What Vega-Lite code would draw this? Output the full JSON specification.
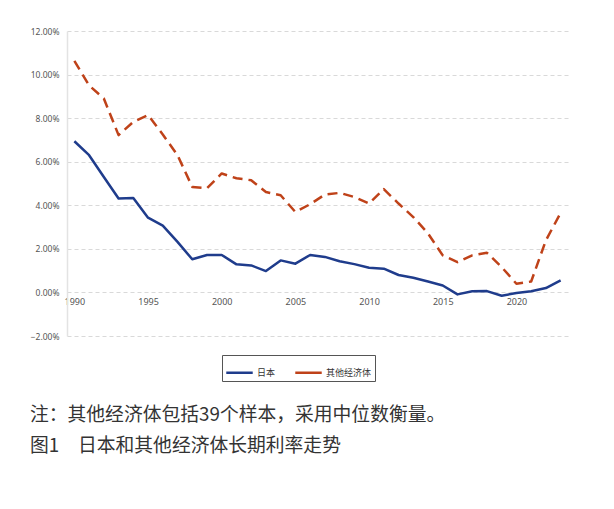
{
  "$schema": "https://vega.github.io/schema/vega-lite/v6.json",
  "width": 501,
  "height": 305,
  "autosize": {"type": "none"},
  "padding": {"left": 67, "top": 31, "right": 46, "bottom": 173},
  "background": "white",
  "title": {
    "text": "注：其他经济体包括39个样本，采用中位数衡量。",
    "subtitle": "图1　日本和其他经济体长期利率走势",
    "orient": "bottom",
    "anchor": "start",
    "frame": "group",
    "dx": -37,
    "offset": 24,
    "font": "Noto Sans CJK SC",
    "fontSize": 18.8,
    "fontWeight": "normal",
    "color": "#333333",
    "subtitleFont": "Noto Sans CJK SC",
    "subtitleFontSize": 18.8,
    "subtitleColor": "#333333",
    "subtitlePadding": 13
  },
  "data": {
    "values": [
      {"year": 1990, "series": "日本", "rate": 6.94},
      {"year": 1991, "series": "日本", "rate": 6.30},
      {"year": 1992, "series": "日本", "rate": 5.30},
      {"year": 1993, "series": "日本", "rate": 4.31},
      {"year": 1994, "series": "日本", "rate": 4.33},
      {"year": 1995, "series": "日本", "rate": 3.43},
      {"year": 1996, "series": "日本", "rate": 3.07},
      {"year": 1997, "series": "日本", "rate": 2.32},
      {"year": 1998, "series": "日本", "rate": 1.52},
      {"year": 1999, "series": "日本", "rate": 1.72},
      {"year": 2000, "series": "日本", "rate": 1.72},
      {"year": 2001, "series": "日本", "rate": 1.29},
      {"year": 2002, "series": "日本", "rate": 1.24},
      {"year": 2003, "series": "日本", "rate": 0.98},
      {"year": 2004, "series": "日本", "rate": 1.47},
      {"year": 2005, "series": "日本", "rate": 1.32},
      {"year": 2006, "series": "日本", "rate": 1.72},
      {"year": 2007, "series": "日本", "rate": 1.63},
      {"year": 2008, "series": "日本", "rate": 1.43},
      {"year": 2009, "series": "日本", "rate": 1.30},
      {"year": 2010, "series": "日本", "rate": 1.13},
      {"year": 2011, "series": "日本", "rate": 1.09},
      {"year": 2012, "series": "日本", "rate": 0.80},
      {"year": 2013, "series": "日本", "rate": 0.67},
      {"year": 2014, "series": "日本", "rate": 0.50},
      {"year": 2015, "series": "日本", "rate": 0.32},
      {"year": 2016, "series": "日本", "rate": -0.09},
      {"year": 2017, "series": "日本", "rate": 0.05},
      {"year": 2018, "series": "日本", "rate": 0.06},
      {"year": 2019, "series": "日本", "rate": -0.15},
      {"year": 2020, "series": "日本", "rate": -0.03},
      {"year": 2021, "series": "日本", "rate": 0.05},
      {"year": 2022, "series": "日本", "rate": 0.20},
      {"year": 2023, "series": "日本", "rate": 0.55},
      {"year": 1990, "series": "其他经济体", "rate": 10.63},
      {"year": 1991, "series": "其他经济体", "rate": 9.50},
      {"year": 1992, "series": "其他经济体", "rate": 8.90},
      {"year": 1993, "series": "其他经济体", "rate": 7.22},
      {"year": 1994, "series": "其他经济体", "rate": 7.83},
      {"year": 1995, "series": "其他经济体", "rate": 8.14},
      {"year": 1996, "series": "其他经济体", "rate": 7.25},
      {"year": 1997, "series": "其他经济体", "rate": 6.30},
      {"year": 1998, "series": "其他经济体", "rate": 4.84},
      {"year": 1999, "series": "其他经济体", "rate": 4.78},
      {"year": 2000, "series": "其他经济体", "rate": 5.46},
      {"year": 2001, "series": "其他经济体", "rate": 5.24},
      {"year": 2002, "series": "其他经济体", "rate": 5.15},
      {"year": 2003, "series": "其他经济体", "rate": 4.61},
      {"year": 2004, "series": "其他经济体", "rate": 4.46},
      {"year": 2005, "series": "其他经济体", "rate": 3.69},
      {"year": 2006, "series": "其他经济体", "rate": 4.05},
      {"year": 2007, "series": "其他经济体", "rate": 4.49},
      {"year": 2008, "series": "其他经济体", "rate": 4.57},
      {"year": 2009, "series": "其他经济体", "rate": 4.38},
      {"year": 2010, "series": "其他经济体", "rate": 4.08},
      {"year": 2011, "series": "其他经济体", "rate": 4.74},
      {"year": 2012, "series": "其他经济体", "rate": 4.08},
      {"year": 2013, "series": "其他经济体", "rate": 3.46},
      {"year": 2014, "series": "其他经济体", "rate": 2.71},
      {"year": 2015, "series": "其他经济体", "rate": 1.70},
      {"year": 2016, "series": "其他经济体", "rate": 1.39},
      {"year": 2017, "series": "其他经济体", "rate": 1.70},
      {"year": 2018, "series": "其他经济体", "rate": 1.82},
      {"year": 2019, "series": "其他经济体", "rate": 1.16},
      {"year": 2020, "series": "其他经济体", "rate": 0.40},
      {"year": 2021, "series": "其他经济体", "rate": 0.50},
      {"year": 2022, "series": "其他经济体", "rate": 2.39},
      {"year": 2023, "series": "其他经济体", "rate": 3.65}
    ]
  },
  "encoding": {
    "x": {
      "field": "year",
      "type": "quantitative",
      "scale": {"domain": [1989.5, 2023.5], "nice": false, "zero": false},
      "axis": {
        "title": null,
        "values": [1990, 1995, 2000, 2005, 2010, 2015, 2020],
        "format": "d",
        "grid": false,
        "domain": false,
        "ticks": false,
        "offset": -44,
        "labelPadding": 5,
        "labelFont": "Noto Sans",
        "labelFontSize": 9,
        "labelColor": "#555555"
      }
    },
    "y": {
      "field": "rate",
      "type": "quantitative",
      "scale": {"domain": [-2, 12], "nice": false, "zero": false},
      "axis": {
        "title": null,
        "values": [-2, 0, 2, 4, 6, 8, 10, 12],
        "labelExpr": "format(datum.value, '.2f') + '%'",
        "grid": true,
        "gridColor": "#d9d9d9",
        "gridDash": [4, 3],
        "gridWidth": 1,
        "domain": true,
        "domainColor": "#e3e3e3",
        "domainWidth": 1.5,
        "ticks": false,
        "labelPadding": 8,
        "labelFont": "Noto Sans",
        "labelFontSize": 8.5,
        "labelColor": "#555555"
      }
    },
    "color": {
      "field": "series",
      "type": "nominal",
      "scale": {"domain": ["日本", "其他经济体"], "range": ["#1f3c8c", "#bf4219"]},
      "legend": {
        "title": null,
        "orient": "none",
        "direction": "horizontal",
        "legendX": 155,
        "legendY": 324,
        "symbolType": "stroke",
        "symbolSize": 700,
        "symbolStrokeWidth": 2.5,
        "labelFont": "Noto Sans CJK SC",
        "labelFontSize": 9,
        "labelColor": "#333333",
        "labelOffset": 3,
        "columnPadding": 14,
        "strokeColor": "#555555",
        "padding": 3
      }
    }
  },
  "layer": [
    {
      "transform": [{"filter": "datum.series === '日本'"}],
      "mark": {"type": "line", "strokeWidth": 2.5, "strokeJoin": "round", "clip": false}
    },
    {
      "transform": [{"filter": "datum.series === '其他经济体'"}],
      "mark": {"type": "line", "strokeWidth": 2.5, "strokeJoin": "round", "strokeDash": [10, 6], "clip": false}
    }
  ],
  "config": {"view": {"stroke": null}}
}
